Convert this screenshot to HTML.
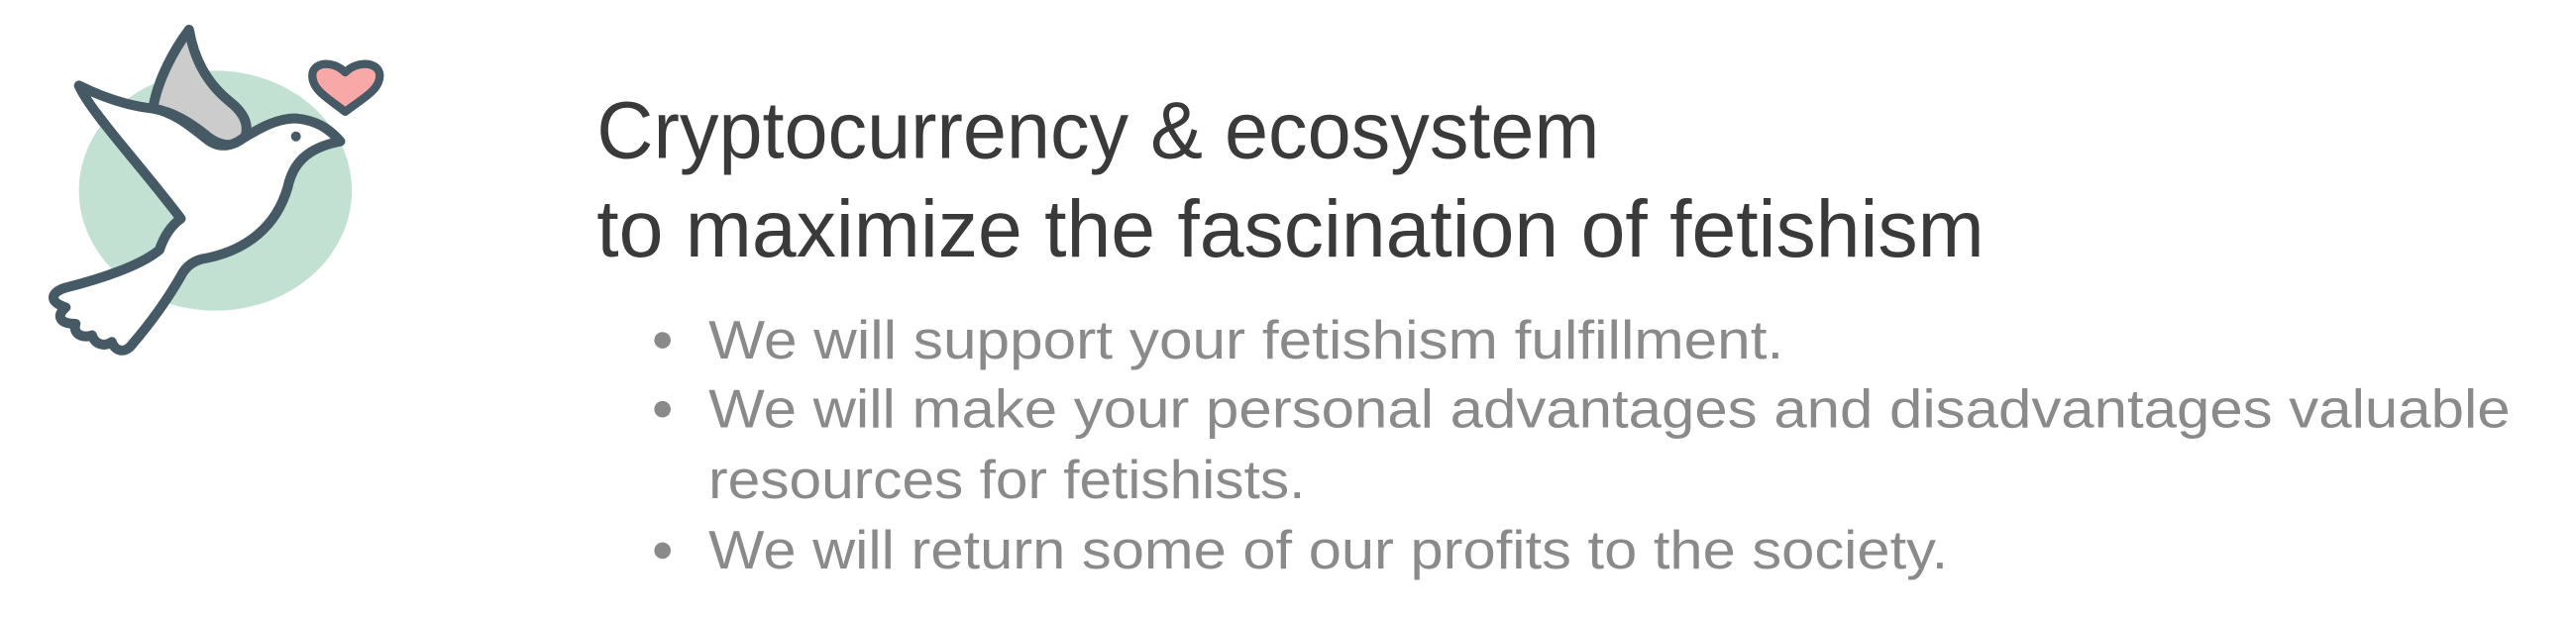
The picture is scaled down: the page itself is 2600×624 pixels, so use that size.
<!DOCTYPE html>
<html><head><meta charset="utf-8"><style>
html,body{margin:0;padding:0;background:#fff;width:2600px;height:624px;overflow:hidden}
svg{display:block}
.t{font-family:"Liberation Sans",sans-serif;fill:#3a3a3a;font-size:49px}
.b{font-family:"Liberation Sans",sans-serif;fill:#8a8a8a;font-size:33px}
</style></head><body>
<svg width="2600" height="624" viewBox="0 0 1567 376">
<g>
<ellipse cx="131" cy="116" rx="83" ry="73" fill="#c2e1d3"/>
<path d="M93,66 C96,48 106,30 115,18 C118,35 125,50 140,62 C150,70 152,78 148,86 C140,90 132,88 125,82 C115,74 105,68 93,66 Z" fill="#cccccc" stroke="#455a64" stroke-width="6" stroke-linejoin="round"/>
<path d="M207,86 C200,78 192,73 180,72 C168,72 158,78 148,84 C140,90 132,90 125,84 C115,76 105,68 93,66 C75,64 60,58 48,52 C55,68 85,100 110,133 C103,138 99,146 97,152 C85,162 60,170 40,175 C30,178 30,184 40,187 C34,192 36,197 46,197 C44,203 50,206 56,204 C58,210 64,211 68,208 C70,214 76,215 80,210 C92,196 102,182 110,168 C113,162 118,158 126,157 C150,152 168,138 175,114 C178,100 186,90 207,86 Z" fill="#fff" stroke="#455a64" stroke-width="6" stroke-linejoin="round"/>
<circle cx="180" cy="83" r="3" fill="#455a64"/>
<path d="M210,68 C200,60 190,55 190,46 C190,38 202,36 210,44 C218,36 231,38 231,46 C231,55 220,60 210,68 Z" fill="#f9a8a8" stroke="#455a64" stroke-width="5" stroke-linejoin="round"/>
</g>
<text class="t" x="363" y="96" textLength="610" lengthAdjust="spacingAndGlyphs">Cryptocurrency &amp; ecosystem</text>
<text class="t" x="363" y="156" textLength="844" lengthAdjust="spacingAndGlyphs">to maximize the fascination of fetishism</text>
<g>
<circle cx="403" cy="207" r="5" fill="#8a8a8a"/>
<text class="b" x="431" y="218" textLength="654" lengthAdjust="spacingAndGlyphs">We will support your fetishism fulfillment.</text>
<circle cx="403" cy="249" r="5" fill="#8a8a8a"/>
<text class="b" x="431" y="260" textLength="1096" lengthAdjust="spacingAndGlyphs">We will make your personal advantages and disadvantages valuable</text>
<text class="b" x="431" y="303" textLength="363" lengthAdjust="spacingAndGlyphs">resources for fetishists.</text>
<circle cx="403" cy="335" r="5" fill="#8a8a8a"/>
<text class="b" x="431" y="346" textLength="754" lengthAdjust="spacingAndGlyphs">We will return some of our profits to the society.</text>
</g>
</svg>
</body></html>
